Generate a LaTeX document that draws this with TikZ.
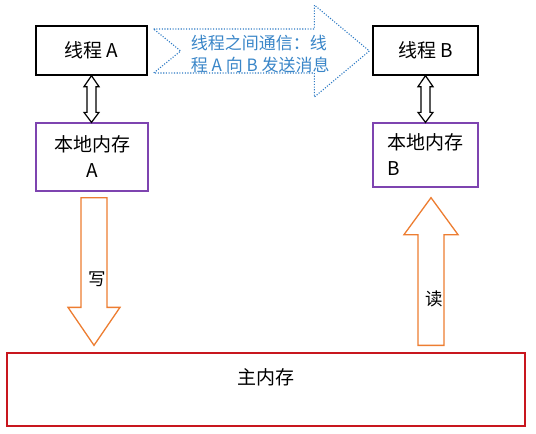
\documentclass[tikz,border=0pt]{standalone}
\usepackage{fontspec}
\setmainfont{Noto Sans CJK SC}
\usepackage{xcolor}
\usetikzlibrary{positioning, calc}

\begin{document}
\begin{tikzpicture}[
  x=1pt, y=-1pt,
  thread/.style={draw=black, line width=1.3pt, minimum width=111pt,
    minimum height=49pt, inner sep=0pt,
    font=\fontsize{19}{26}\selectfont},
  localmem/.style={draw=cPurple, line width=1.3pt, minimum width=112pt,
    minimum height=68pt, inner sep=0pt, align=center,
    font=\fontsize{19}{26}\selectfont},
  mainmem/.style={draw=cRed, line width=1.3pt, minimum width=518pt,
    minimum height=73pt, inner sep=0pt},
  dblarrow/.style={draw=black, line width=1.2pt, fill=white, line join=miter},
  rwarrow/.style={draw=cOrange, line width=1.3pt, fill=white, line join=miter},
  msgarrow/.style={draw=cBlue, line width=1.1pt,
    dash pattern=on 1.1pt off 1.6pt},
  rwlabel/.style={inner sep=0pt, font=\fontsize{17.5}{17.5}\selectfont},
]
\definecolor{cPurple}{HTML}{7E44B0}
\definecolor{cRed}{HTML}{C8161E}
\definecolor{cOrange}{HTML}{ED7D31}
\definecolor{cBlue}{HTML}{2E7BC4}
\definecolor{cBlueTxt}{HTML}{3A86C8}

\useasboundingbox (0,0) rectangle (536,434);

% ============================================================================
% threads (top row) and their local memories
% ============================================================================
\node[thread] (thA) at (91.5,50.5) {线程 A};
\node[thread, minimum width=105pt] (thB) at (425.5,50.5) {线程 B};

\node[localmem] (lmA) at (92,157) {本地内存\\A};
\node[localmem, minimum width=105pt, minimum height=64pt, align=left]
  (lmB) at (425.5,155) {本地内存\\B};

% hollow double arrows: thread <-> local memory
\draw[dblarrow] let \p1=(thA.south), \p2=(lmA.north) in
  (\x1,\y1) -- (\x1+7.5pt,\y1-11pt) -- (\x1+4.5pt,\y1-11pt)
  -- (\x1+4.5pt,\y2+10pt) -- (\x1+7.5pt,\y2+10pt) -- (\x1,\y2)
  -- (\x1-7.5pt,\y2+10pt) -- (\x1-4.5pt,\y2+10pt)
  -- (\x1-4.5pt,\y1-11pt) -- (\x1-7.5pt,\y1-11pt) -- cycle;
\draw[dblarrow] let \p1=(thB.south), \p2=(lmB.north) in
  (\x1,\y1) -- (\x1+7.5pt,\y1-11pt) -- (\x1+4.5pt,\y1-11pt)
  -- (\x1+4.5pt,\y2+10pt) -- (\x1+7.5pt,\y2+10pt) -- (\x1,\y2)
  -- (\x1-7.5pt,\y2+10pt) -- (\x1-4.5pt,\y2+10pt)
  -- (\x1-4.5pt,\y1-11pt) -- (\x1-7.5pt,\y1-11pt) -- cycle;

% ============================================================================
% message between threads: dotted notched arrow
% ============================================================================
\coordinate (mS) at ($(thA.east)+(6,0.5)$);
\coordinate (mE) at ($(thB.west)+(-3,0.5)$);
\draw[msgarrow] let \p1=(mS), \p2=(mE) in
  (\x1,\y1+22pt) -- (\x2-55pt,\y1+22pt) -- (\x2-55pt,\y1+46pt)
  -- (\x2,\y2) -- (\x2-55pt,\y2-46pt) -- (\x2-55pt,\y1-22pt)
  -- (\x1,\y1-22pt) -- (\x1+27pt,\y1) -- cycle;
\node[anchor=west, inner sep=0pt, align=left, text=cBlueTxt,
      font=\fontsize{17}{22}\selectfont] (msg) at ($(mS)+(37,3.5)$)
      {线程之间通信：线\\程 A 向 B 发送消息};

% ============================================================================
% main memory (bottom) with write / read block arrows
% ============================================================================
\node[mainmem, label={[yshift=12.5pt, inner sep=0pt,
      font=\fontsize{19}{19}\selectfont]center:主内存}] (mem) at (266,389.5) {};

% write: local memory A -> main memory
\coordinate (wS) at ($(lmA.south)+(2,6)$);
\coordinate (wE) at ($(wS|-mem.north)+(0,-7)$);
\draw[rwarrow] let \p1=(wS), \p2=(wE) in
  (\x1-13pt,\y1) -- (\x1+13pt,\y1) -- (\x1+13pt,\y2+38pt)
  -- (\x1+26pt,\y2+38pt) -- (\x1,\y2) -- (\x1-26pt,\y2+38pt)
  -- (\x1-13pt,\y2+38pt) -- cycle;
\node[rwlabel] (wLbl) at ($(wS)+(3,82)$) {写};

% read: main memory -> local memory B
\coordinate (rS) at ($(lmB.south)+(5.5,10)$);
\coordinate (rE) at ($(rS|-mem.north)+(0,-7)$);
\draw[rwarrow] let \p1=(rE), \p2=(rS) in
  (\x1-13pt,\y1) -- (\x1+13pt,\y1) -- (\x1+13pt,\y2-37pt)
  -- (\x1+27pt,\y2-37pt) -- (\x1,\y2) -- (\x1-27pt,\y2-37pt)
  -- (\x1-13pt,\y2-37pt) -- cycle;
\node[rwlabel] (rLbl) at ($(rS)+(3,101)$) {读};

\end{tikzpicture}
\end{document}
